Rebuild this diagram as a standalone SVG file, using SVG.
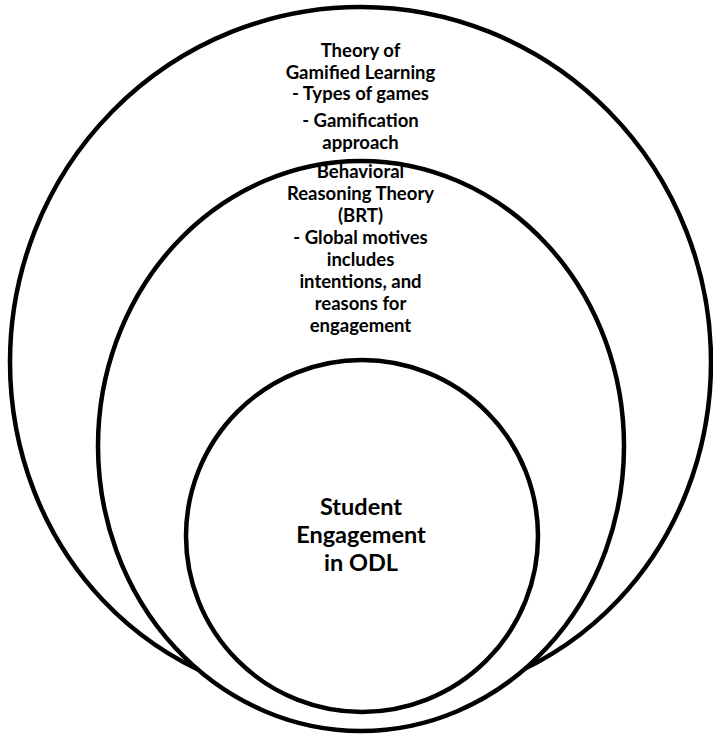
<svg xmlns="http://www.w3.org/2000/svg" width="713" height="738" viewBox="0 0 713 738">
  <style>
    .ring { fill: #ffffff; stroke: #000000; stroke-width: 4.5; }
    .lbl { font-family: Lato, "Liberation Sans", sans-serif; font-weight: bold; fill: #000000; text-anchor: middle; }
    .small { font-size: 18.5px; }
    .big { font-size: 23.5px; }
  </style>
  <rect x="0" y="0" width="713" height="738" fill="#ffffff"/>
  <g id="outer">
    <path class="ring" d="M 10,362 A 350.5,355 0 0 1 711,362 C 711,540 580,705 360.5,705 C 141,705 10,540 10,362 Z"/>
    <text class="lbl small" x="360.5" y="57">Theory of</text>
    <text class="lbl small" x="360.5" y="79">Gamified Learning</text>
    <text class="lbl small" x="360.5" y="100">- Types of games</text>
    <text class="lbl small" x="360.5" y="127">- Gamification</text>
    <text class="lbl small" x="360.5" y="149">approach</text>
  </g>
  <g id="middle">
    <ellipse class="ring" cx="361" cy="446" rx="263" ry="285"/>
    <text class="lbl small" x="360.5" y="178">Behavioral</text>
    <text class="lbl small" x="360.5" y="200">Reasoning Theory</text>
    <text class="lbl small" x="360.5" y="222">(BRT)</text>
    <text class="lbl small" x="360.5" y="244">- Global motives</text>
    <text class="lbl small" x="360.5" y="266">includes</text>
    <text class="lbl small" x="360.5" y="288">intentions, and</text>
    <text class="lbl small" x="360.5" y="310">reasons for</text>
    <text class="lbl small" x="360.5" y="332">engagement</text>
  </g>
  <g id="inner">
    <ellipse class="ring" cx="362" cy="536" rx="176" ry="176"/>
    <text class="lbl big" x="361" y="515">Student</text>
    <text class="lbl big" x="361" y="543">Engagement</text>
    <text class="lbl big" x="361" y="571">in ODL</text>
  </g>
  <g id="connectors"/>
</svg>
